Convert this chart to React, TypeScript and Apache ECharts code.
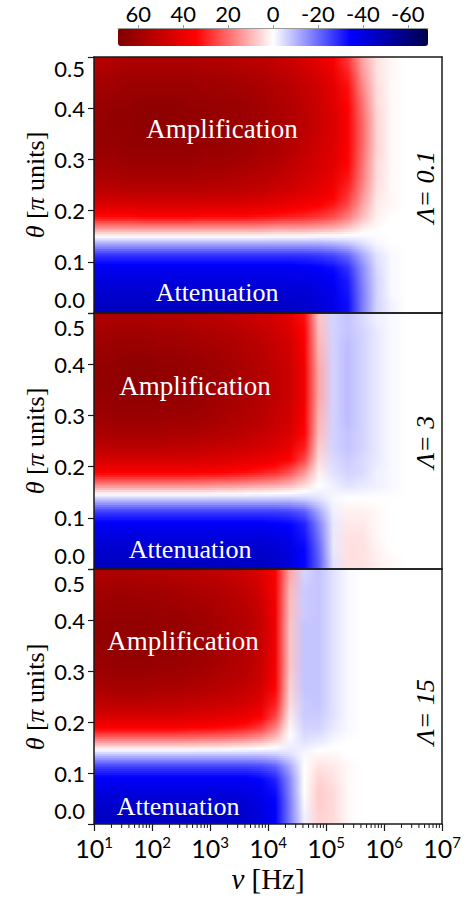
import { useEffect, useRef } from "react";
import * as echarts from "echarts";

// log10(ν) at the centre of each data column
const NU_BINS = [
  1.125, 1.375, 1.625, 1.875, 2.125, 2.375, 2.625, 2.875,
  3.125, 3.375, 3.625, 3.875, 4.125, 4.375, 4.625, 4.875,
  5.125, 5.375, 5.625, 5.875, 6.125, 6.375, 6.625, 6.875,
];
// θ [π units] at the centre of each data row (top → bottom, same order as panel rows)
const THETA_BINS = [
  0.4875, 0.4625, 0.4375, 0.4125, 0.3875, 0.3625, 0.3375, 0.3125, 0.2875, 0.2625,
  0.2375, 0.2125, 0.1875, 0.1625, 0.1375, 0.1125, 0.0875, 0.0625, 0.0375, 0.0125,
];

const CBAR_TICKS = [60, 40, 20, 0, -20, -40, -60];
const MINOR_TICKS = [
  2e1, 3e1, 4e1, 5e1, 6e1, 7e1, 8e1, 9e1,
  2e2, 3e2, 4e2, 5e2, 6e2, 7e2, 8e2, 9e2,
  2e3, 3e3, 4e3, 5e3, 6e3, 7e3, 8e3, 9e3,
  2e4, 3e4, 4e4, 5e4, 6e4, 7e4, 8e4, 9e4,
  2e5, 3e5, 4e5, 5e5, 6e5, 7e5, 8e5, 9e5,
  2e6, 3e6, 4e6, 5e6, 6e6, 7e6, 8e6, 9e6,
];
const PANEL_LABELS = ["Λ= 0.1", "Λ= 3", "Λ= 15"];

// rows listed from θ = 0.4875 (top) down to θ = 0.0125 (bottom)
const PANEL_LAMBDA_01 = [
  [55, 56, 57, 57, 57, 57, 57, 56, 56, 55, 54, 53, 51, 49, 46, 42, 37, 28, 13, 4, 1, 0, 0, 0],
  [58, 59, 60, 60, 60, 60, 60, 59, 59, 58, 57, 56, 54, 52, 49, 45, 40, 31, 15, 4, 1, 0, 0, 0],
  [60, 61, 62, 62, 62, 62, 62, 61, 61, 60, 59, 58, 56, 54, 51, 47, 42, 33, 17, 5, 1, 0, 0, 0],
  [62, 63, 63, 64, 64, 64, 63, 63, 62, 62, 61, 59, 57, 55, 52, 48, 43, 34, 19, 5, 1, 0, 0, 0],
  [63, 64, 64, 65, 65, 65, 64, 64, 63, 62, 61, 60, 58, 56, 53, 49, 44, 35, 20, 6, 1, 0, 0, 0],
  [63, 64, 64, 65, 65, 65, 64, 64, 63, 62, 61, 60, 58, 56, 53, 49, 44, 35, 21, 6, 1, 0, 0, 0],
  [63, 63, 64, 64, 64, 64, 64, 63, 63, 62, 61, 59, 58, 55, 52, 48, 44, 35, 21, 6, 1, 0, 0, 0],
  [62, 62, 63, 63, 63, 63, 63, 62, 62, 61, 60, 58, 57, 54, 51, 47, 43, 35, 20, 6, 1, 0, 0, 0],
  [60, 60, 61, 61, 61, 61, 61, 60, 60, 59, 58, 56, 55, 52, 49, 46, 42, 34, 19, 5, 1, 0, 0, 0],
  [57, 57, 58, 58, 58, 58, 58, 57, 57, 56, 55, 54, 52, 50, 47, 44, 40, 32, 18, 5, 1, 0, 0, 0],
  [52, 52, 53, 53, 53, 53, 53, 53, 52, 52, 51, 50, 48, 46, 44, 41, 37, 29, 16, 4, 1, 0, 0, 0],
  [45, 45, 45, 46, 46, 46, 46, 45, 45, 45, 44, 43, 42, 40, 38, 36, 32, 25, 13, 3, 1, 0, 0, 0],
  [33, 33, 33, 34, 34, 34, 34, 33, 33, 33, 33, 32, 31, 30, 29, 27, 24, 18, 9, 2, 0, 0, 0, 0],
  [12, 12, 12, 12, 12, 12, 12, 12, 12, 12, 12, 12, 11, 11, 11, 10, 9, 6, 2, 0, 0, 0, 0, 0],
  [-10, -10, -10, -10, -10, -10, -10, -10, -10, -10, -10, -10, -10, -10, -10, -10, -9, -7, -4, -1, 0, 0, 0, 0],
  [-28, -28, -28, -28, -28, -28, -28, -28, -28, -28, -28, -28, -28, -28, -28, -27, -25, -21, -12, -4, -1, 0, 0, 0],
  [-37, -37, -37, -37, -37, -37, -37, -37, -37, -37, -37, -37, -37, -37, -36, -35, -33, -28, -16, -5, -1, 0, 0, 0],
  [-41, -41, -41, -41, -41, -41, -41, -41, -41, -41, -41, -41, -41, -40, -40, -39, -36, -31, -17, -6, -1, 0, 0, 0],
  [-44, -44, -44, -44, -44, -44, -44, -44, -44, -44, -44, -44, -44, -43, -43, -41, -38, -32, -18, -6, -1, 0, 0, 0],
  [-46, -46, -46, -46, -46, -46, -46, -46, -46, -46, -46, -46, -45, -45, -44, -42, -39, -33, -18, -6, -2, 0, 0, 0],
];

const PANEL_LAMBDA_3 = [
  [57, 57, 57, 57, 56, 56, 55, 54, 53, 52, 50, 48, 46, 42, 33, 8, -6, -8, -5, -2, -1, 0, 0, 0],
  [59, 60, 60, 60, 59, 59, 58, 57, 56, 55, 53, 51, 48, 44, 35, 9, -6, -8, -6, -3, -1, 0, 0, 0],
  [61, 62, 62, 62, 61, 61, 60, 59, 58, 57, 55, 53, 50, 46, 36, 10, -6, -9, -6, -3, -1, 0, 0, 0],
  [63, 63, 64, 64, 63, 63, 62, 61, 60, 58, 56, 54, 51, 47, 37, 11, -6, -9, -6, -3, -1, 0, 0, 0],
  [64, 64, 65, 65, 64, 64, 63, 62, 61, 59, 57, 55, 52, 48, 38, 12, -6, -9, -6, -3, -1, 0, 0, 0],
  [64, 64, 65, 65, 64, 64, 63, 62, 61, 59, 57, 55, 52, 48, 38, 12, -6, -9, -6, -3, -1, 0, 0, 0],
  [63, 64, 64, 64, 64, 63, 63, 62, 60, 59, 57, 55, 52, 48, 38, 12, -6, -9, -6, -3, -1, 0, 0, 0],
  [62, 63, 63, 63, 63, 62, 62, 61, 59, 58, 56, 54, 51, 47, 37, 11, -6, -9, -6, -3, -1, 0, 0, 0],
  [60, 61, 61, 61, 61, 60, 60, 59, 58, 56, 55, 53, 50, 46, 36, 10, -6, -9, -6, -3, -1, 0, 0, 0],
  [57, 58, 58, 58, 58, 57, 57, 56, 55, 54, 52, 50, 48, 44, 34, 9, -6, -8, -6, -3, -1, 0, 0, 0],
  [52, 53, 53, 53, 53, 52, 52, 51, 50, 49, 48, 46, 44, 40, 31, 7, -6, -8, -6, -3, -1, 0, 0, 0],
  [46, 46, 46, 46, 46, 46, 46, 45, 44, 43, 42, 40, 38, 34, 25, 5, -5, -7, -5, -3, -1, 0, 0, 0],
  [35, 35, 35, 35, 35, 35, 35, 34, 34, 33, 32, 30, 28, 23, 14, 2, -4, -6, -5, -2, -1, 0, 0, 0],
  [15, 15, 15, 15, 15, 15, 15, 15, 14, 14, 13, 12, 11, 9, 5, 0, -2, -4, -3, -2, -1, 0, 0, 0],
  [-7, -7, -7, -7, -7, -7, -7, -7, -7, -7, -7, -7, -7, -7, -6, -4, -1, 0, 0, 0, 0, 0, 0, 0],
  [-26, -26, -26, -26, -26, -26, -26, -26, -26, -26, -26, -26, -26, -25, -22, -12, -2, 2, 2, 1, 0, 0, 0, 0],
  [-36, -36, -36, -36, -36, -36, -36, -36, -36, -36, -36, -36, -35, -34, -30, -17, -3, 3, 3, 1, 0, 0, 0, 0],
  [-41, -41, -41, -41, -41, -41, -41, -41, -41, -41, -41, -41, -40, -38, -32, -19, -3, 4, 4, 1, 0, 0, 0, 0],
  [-44, -44, -44, -44, -44, -44, -44, -44, -44, -44, -44, -44, -43, -40, -34, -21, -3, 4, 4, 2, 0, 0, 0, 0],
  [-46, -46, -46, -46, -46, -46, -46, -46, -46, -46, -46, -46, -45, -41, -34, -22, -4, 4, 4, 2, 1, 0, 0, 0],
];

const PANEL_LAMBDA_15 = [
  [57, 57, 57, 56, 56, 55, 54, 53, 52, 50, 48, 44, 36, 12, -6, -8, -4, -1, 0, 0, 0, 0, 0, 0],
  [59, 60, 60, 59, 59, 58, 57, 56, 55, 53, 51, 46, 36, 10, -7, -8, -4, -1, 0, 0, 0, 0, 0, 0],
  [61, 62, 62, 61, 61, 60, 59, 58, 57, 55, 53, 48, 37, 9, -7, -8, -4, -1, 0, 0, 0, 0, 0, 0],
  [63, 63, 63, 63, 62, 62, 61, 60, 58, 56, 54, 49, 38, 9, -7, -8, -4, -1, 0, 0, 0, 0, 0, 0],
  [64, 64, 64, 64, 63, 63, 62, 61, 59, 57, 55, 50, 38, 8, -8, -8, -4, -1, 0, 0, 0, 0, 0, 0],
  [64, 64, 64, 64, 63, 63, 62, 61, 59, 57, 55, 50, 38, 8, -8, -8, -4, -1, 0, 0, 0, 0, 0, 0],
  [63, 64, 64, 64, 63, 63, 62, 61, 59, 57, 55, 50, 38, 8, -8, -8, -4, -1, 0, 0, 0, 0, 0, 0],
  [62, 63, 63, 63, 62, 62, 61, 60, 58, 56, 54, 49, 37, 8, -8, -8, -4, -1, 0, 0, 0, 0, 0, 0],
  [60, 61, 61, 61, 60, 60, 59, 58, 56, 55, 53, 48, 36, 7, -8, -8, -4, -1, 0, 0, 0, 0, 0, 0],
  [57, 58, 58, 58, 57, 57, 56, 55, 54, 52, 50, 46, 34, 6, -8, -8, -4, -1, 0, 0, 0, 0, 0, 0],
  [52, 53, 53, 53, 52, 52, 51, 50, 49, 48, 46, 42, 31, 5, -7, -8, -4, -1, 0, 0, 0, 0, 0, 0],
  [46, 46, 46, 46, 46, 46, 45, 44, 43, 42, 40, 36, 26, 3, -7, -7, -4, -1, 0, 0, 0, 0, 0, 0],
  [35, 35, 35, 35, 35, 35, 34, 34, 33, 32, 30, 26, 17, 1, -6, -6, -3, -1, 0, 0, 0, 0, 0, 0],
  [15, 15, 15, 15, 15, 15, 15, 14, 14, 13, 12, 10, 6, -1, -4, -3, -1, 0, 0, 0, 0, 0, 0, 0],
  [-7, -7, -7, -7, -7, -7, -7, -7, -7, -7, -7, -7, -6, -4, -1, 1, 1, 0, 0, 0, 0, 0, 0, 0],
  [-26, -26, -26, -26, -26, -26, -26, -26, -26, -26, -26, -25, -22, -12, 0, 4, 3, 1, 0, 0, 0, 0, 0, 0],
  [-36, -36, -36, -36, -36, -36, -36, -36, -36, -36, -36, -34, -30, -16, 0, 6, 4, 1, 0, 0, 0, 0, 0, 0],
  [-41, -41, -41, -41, -41, -41, -41, -41, -41, -41, -40, -38, -33, -17, 0, 7, 5, 1, 0, 0, 0, 0, 0, 0],
  [-44, -44, -44, -44, -44, -44, -44, -44, -44, -44, -43, -40, -35, -18, -1, 7, 5, 1, 0, 0, 0, 0, 0, 0],
  [-46, -46, -46, -46, -46, -46, -46, -46, -46, -45, -44, -41, -35, -18, -2, 6, 5, 1, 0, 0, 0, 0, 0, 0],
];

const PANELS = [PANEL_LAMBDA_01, PANEL_LAMBDA_3, PANEL_LAMBDA_15];

const SEISMIC = ["#00004d", "#0000ff", "#ffffff", "#ff0000", "#800000"];
const V_MIN = -69;
const V_MAX = 69;
const SERIF = "'Liberation Serif', 'Times New Roman', serif";
const SANS = "Lato, 'Open Sans', sans-serif";
const FRAME = "#1a1a1a";

const GRID_TOPS = [57, 313, 569];
const GRID_HEIGHTS = [256, 256, 255];
const PANEL_CENTERS = [185, 441, 697];
const LAMBDA_Y = [187, 442, 712];
const AMP_POS = [[222, 129], [195, 386], [183, 641]];
const ATT_POS = [[217, 292], [190, 549], [178, 806]];

const SUB_BANDS = 6; // smooth (gouraud-like) shading between data rows

function colorOf(v: number) {
  const t = Math.min(1, Math.max(0, (v - V_MIN) / (V_MAX - V_MIN)));
  return echarts.color.lerp(t, SEISMIC) as string;
}

function makeRenderer(rows: number[][]) {
  const nRows = rows.length;
  const nCols = NU_BINS.length;
  const dLog = NU_BINS[1] - NU_BINS[0];
  const dTheta = THETA_BINS[0] - THETA_BINS[1];
  const logMin = NU_BINS[0] - dLog / 2;
  const logMax = NU_BINS[nCols - 1] + dLog / 2;
  return (params: any, api: any) => {
    const r = api.value(0) as number; // row index (top → bottom)
    const thetaC = THETA_BINS[r];
    const children: any[] = [];
    for (let s = 0; s < SUB_BANDS; s++) {
      const thTop = thetaC + dTheta / 2 - (s * dTheta) / SUB_BANDS;
      const thBot = thTop - dTheta / SUB_BANDS;
      const thMid = (thTop + thBot) / 2;
      let rAbove = r;
      let rBelow = r;
      if (thMid >= thetaC) {
        rAbove = Math.max(0, r - 1);
      } else {
        rBelow = Math.min(nRows - 1, r + 1);
      }
      const thA = THETA_BINS[rAbove];
      const thB = THETA_BINS[rBelow];
      const w = thA === thB ? 0 : Math.min(1, Math.max(0, (thA - thMid) / (thA - thB)));
      const stops: any[] = [];
      for (let c = 0; c < nCols; c++) {
        const v = rows[rAbove][c] * (1 - w) + rows[rBelow][c] * w;
        const off = (NU_BINS[c] - logMin) / (logMax - logMin);
        if (c === 0) stops.push({ offset: 0, color: colorOf(v) });
        stops.push({ offset: off, color: colorOf(v) });
        if (c === nCols - 1) stops.push({ offset: 1, color: colorOf(v) });
      }
      const p0 = api.coord([Math.pow(10, logMin), thTop]);
      const p1 = api.coord([Math.pow(10, logMax), thBot]);
      const isLast = r === nRows - 1 && s === SUB_BANDS - 1;
      children.push({
        type: "rect",
        shape: {
          x: p0[0],
          y: p0[1],
          width: p1[0] - p0[0],
          height: p1[1] - p0[1] + (isLast ? 0 : 1.3),
        },
        style: { fill: new echarts.graphic.LinearGradient(0, 0, 1, 0, stops) },
      });
    }
    return { type: "group", children };
  };
}

export default function App() {
  const ref = useRef<HTMLDivElement>(null);

  useEffect(() => {
    if (!ref.current) return;
    const chart = echarts.init(ref.current, undefined, { renderer: "svg" });

    const grids: any[] = GRID_TOPS.map((t, k) => ({
      left: 94,
      top: t,
      width: 348,
      height: GRID_HEIGHTS[k],
    }));
    grids.push({ left: 118, top: 28, width: 310, height: 18 });

    const frameLine = { show: true, onZero: false, lineStyle: { color: FRAME, width: 1.5 } };
    const labelStyle = { fontSize: 22, fontFamily: SANS, color: "#000" };

    const xAxes: any[] = [];
    const yAxes: any[] = [];
    for (let k = 0; k < 3; k++) {
      xAxes.push({
        type: "log",
        gridIndex: k,
        logBase: 10,
        min: 10,
        max: 1e7,
        splitNumber: 6,
        position: "bottom",
        axisLine: frameLine,
        axisTick: { show: k === 2, length: 7, lineStyle: { color: FRAME, width: 1.2 } },
        minorTick: { show: false },
        axisLabel: {
          show: k === 2,
          margin: 10,
          formatter: (v: number) => `{b|10}{s|${Math.round(Math.log10(v))}}`,
          rich: {
            b: { fontSize: 25, fontFamily: SANS, color: "#000", lineHeight: 28 },
            s: { fontSize: 15, fontFamily: SANS, color: "#000", lineHeight: 15, verticalAlign: "top" },
          },
        },
        splitLine: { show: false },
        z: 5,
      });
      xAxes.push({
        type: "log",
        gridIndex: k,
        logBase: 10,
        min: 10,
        max: 1e7,
        position: "top",
        axisLine: frameLine,
        axisTick: { show: false },
        axisLabel: { show: false },
        splitLine: { show: false },
        z: 5,
      });
      yAxes.push({
        type: "value",
        gridIndex: k,
        min: 0,
        max: 0.5,
        interval: 0.1,
        position: "left",
        axisLine: frameLine,
        axisTick: { show: true, length: 6, lineStyle: { color: FRAME, width: 1.2 } },
        axisLabel: {
          margin: 9,
          formatter: (v: number) =>
            v < 1e-9 ? `{lo|${v.toFixed(1)}}` : v > 0.5 - 1e-9 ? `{hi|${v.toFixed(1)}}` : `{n|${v.toFixed(1)}}`,
          rich: {
            lo: { ...labelStyle, padding: [0, 0, 3, 0] },
            hi: { ...labelStyle, padding: [k === 0 ? 0 : 3, 0, 0, 0] },
            n: labelStyle,
          },
          verticalAlignMinLabel: "bottom",
          verticalAlignMaxLabel: "top",
        },
        splitLine: { show: false },
        z: 5,
      });
      yAxes.push({
        type: "value",
        gridIndex: k,
        min: 0,
        max: 0.5,
        position: "right",
        axisLine: frameLine,
        axisTick: { show: false },
        axisLabel: { show: false },
        splitLine: { show: false },
        z: 5,
      });
    }
    xAxes.push({
      type: "value",
      gridIndex: 3,
      min: V_MIN,
      max: V_MAX,
      inverse: true,
      position: "top",
      axisLine: { show: true, onZero: false, lineStyle: { color: "#9a9a9a", width: 1 } },
      axisTick: { show: true, customValues: CBAR_TICKS, length: 3, lineStyle: { color: "#9a9a9a" } },
      axisLabel: { customValues: CBAR_TICKS, fontSize: 22, fontFamily: SANS, color: "#000", margin: 4 },
      splitLine: { show: false },
      z: 5,
    });
    yAxes.push({ type: "value", gridIndex: 3, min: 0, max: 1, show: false });

    const series: any[] = PANELS.map((rows, k) => ({
      type: "custom",
      name: PANEL_LABELS[k],
      xAxisIndex: 2 * k,
      yAxisIndex: 2 * k,
      silent: true,
      clip: true,
      data: rows.map((row, r) => [r, THETA_BINS[r], ...row]),
      renderItem: makeRenderer(rows),
      z: 2,
    }));
    series.push({
      type: "custom",
      xAxisIndex: 4,
      yAxisIndex: 4,
      silent: true,
      data: MINOR_TICKS.map((v) => [v]),
      renderItem: (params: any, api: any) => {
        const p = api.coord([api.value(0), 0]);
        return {
          type: "line",
          shape: { x1: p[0], y1: p[1], x2: p[0], y2: p[1] + 4 },
          style: { stroke: FRAME, lineWidth: 1 },
        };
      },
      z: 6,
    });

    const graphic: any[] = [];
    for (let k = 0; k < 3; k++) {
      graphic.push({
        type: "text",
        x: 35,
        y: PANEL_CENTERS[k],
        rotation: Math.PI / 2,
        z: 100,
        style: {
          text: "{i|θ} [{i|π} units]",
          rich: { i: { fontStyle: "italic", fontFamily: SERIF, fontSize: 26, fill: "#000" } },
          fontFamily: SERIF,
          fontSize: 26,
          fill: "#000",
          align: "center",
          verticalAlign: "middle",
        },
      });
      graphic.push({
        type: "text",
        x: 425,
        y: LAMBDA_Y[k],
        rotation: Math.PI / 2,
        z: 100,
        style: {
          text: PANEL_LABELS[k],
          fontFamily: SERIF,
          fontStyle: "italic",
          fontSize: 26,
          fill: "#000",
          align: "center",
          verticalAlign: "middle",
        },
      });
      graphic.push({
        type: "text",
        x: AMP_POS[k][0],
        y: AMP_POS[k][1],
        z: 100,
        style: {
          text: "Amplification",
          fontFamily: SERIF,
          fontSize: 27,
          fill: "#fff",
          align: "center",
          verticalAlign: "middle",
        },
      });
      graphic.push({
        type: "text",
        x: ATT_POS[k][0],
        y: ATT_POS[k][1],
        z: 100,
        style: {
          text: "Attenuation",
          fontFamily: SERIF,
          fontSize: 26,
          fill: "#fff",
          align: "center",
          verticalAlign: "middle",
        },
      });
    }
    graphic.push({
      type: "text",
      x: 268,
      y: 879,
      z: 100,
      style: {
        text: "{i|ν} [Hz]",
        rich: { i: { fontStyle: "italic", fontFamily: SERIF, fontSize: 29, fill: "#000" } },
        fontFamily: SERIF,
        fontSize: 29,
        fill: "#000",
        align: "center",
        verticalAlign: "middle",
      },
    });

    chart.setOption({
      animation: false,
      backgroundColor: "#ffffff",
      grid: grids,
      xAxis: xAxes,
      yAxis: yAxes,
      visualMap: [
        {
          type: "continuous",
          min: V_MIN,
          max: V_MAX,
          orient: "horizontal",
          inverse: true,
          left: 118,
          top: 28,
          padding: 0,
          itemWidth: 18,
          itemHeight: 310,
          calculable: false,
          showLabel: false,
          text: null,
          seriesIndex: [],
          inRange: { color: SEISMIC },
        },
      ],
      series,
      graphic,
    });

    return () => chart.dispose();
  }, []);

  return (
    <div
      ref={ref}
      style={{ position: "fixed", left: 0, top: 0, width: 469, height: 898, background: "#fff" }}
    />
  );
}
